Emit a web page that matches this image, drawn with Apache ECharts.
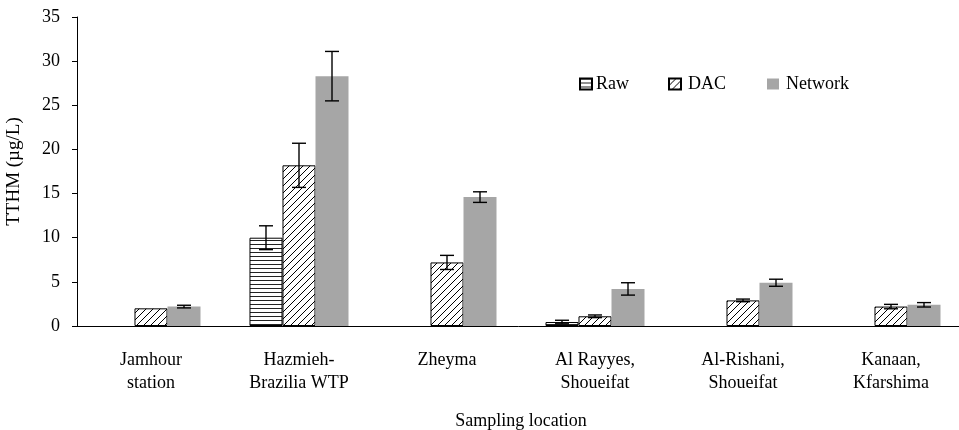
<!DOCTYPE html>
<html>
<head>
<meta charset="utf-8">
<script src="https://cdn.jsdelivr.net/npm/echarts@6/dist/echarts.min.js"></script>
<style>html,body{margin:0;padding:0;background:#fff}#c{width:959px;height:430px}</style>
</head>
<body>
<div id="c"></div>
<script>
var categories = ['Jamhour\nstation', 'Hazmieh-\nBrazilia WTP', 'Zheyma', 'Al Rayyes,\nShoueifat', 'Al-Rishani,\nShoueifat', 'Kanaan,\nKfarshima'];
var rawValues = [null, 10.0, null, 0.45, null, null];
var dacValues = [2.0, 18.2, 7.2, 1.1, 2.9, 2.2];
var networkValues = [2.2, 28.3, 14.6, 4.2, 4.9, 2.4];
var rawErrors = [null, 1.35, null, 0.2, null, null];
var dacErrors = [null, 2.5, 0.8, 0.15, 0.15, 0.25];
var networkErrors = [0.15, 2.8, 0.6, 0.7, 0.4, 0.25];
var seriesNames = ['Raw', 'DAC', 'Network'];
var yTicks = [0, 5, 10, 15, 20, 25, 30, 35];

var FONT = 'Liberation Serif';

function hPattern() {
  var c = document.createElement('canvas');
  c.width = 4; c.height = 4;
  var g = c.getContext('2d');
  g.fillStyle = '#fff'; g.fillRect(0, 0, 4, 4);
  g.fillStyle = '#222'; g.fillRect(0, 0, 4, 1);
  return c;
}
function dPattern() {
  var s = 7;
  var c = document.createElement('canvas');
  c.width = s; c.height = s;
  var g = c.getContext('2d');
  g.fillStyle = '#fff'; g.fillRect(0, 0, s, s);
  g.strokeStyle = '#000'; g.lineWidth = 1;
  g.beginPath();
  g.moveTo(-1, s + 1); g.lineTo(s + 1, -1);
  g.moveTo(-1, 1); g.lineTo(1, -1);
  g.moveTo(s - 1, s + 1); g.lineTo(s + 1, s - 1);
  g.stroke();
  return c;
}

var BAR_RATIO = 0.223;
var seriesVals = [rawValues, dacValues, networkValues];
var seriesErrs = [rawErrors, dacErrors, networkErrors];
var errData = [];
for (var s = 0; s < 3; s++) {
  for (var i = 0; i < categories.length; i++) {
    if (seriesVals[s][i] != null && seriesErrs[s][i] != null) {
      errData.push([i, seriesVals[s][i], seriesErrs[s][i], s]);
    }
  }
}

var legendLefts = [579, 668, 767];
var legends = seriesNames.map(function (n, k) {
  return {
    data: [n], left: legendLefts[k], top: 75, padding: 0,
    itemWidth: 12, itemHeight: 11, icon: 'rect',
    textStyle: {fontFamily: FONT, fontSize: 18, color: '#000', padding: [0, 0, 0, k === 0 ? -1 : 2]}
  };
});

var chart = echarts.init(document.getElementById('c'), null, {renderer: 'canvas'});
chart.setOption({
  animation: false,
  backgroundColor: '#fff',
  textStyle: {fontFamily: FONT, color: '#000'},
  grid: {left: 77, right: -6, top: 17, bottom: 104, containLabel: false, outerBoundsMode: 'none'},
  legend: legends,
  xAxis: {
    type: 'category',
    data: categories,
    name: 'Sampling location',
    nameLocation: 'middle',
    nameGap: 86,
    nameTextStyle: {fontFamily: FONT, fontSize: 18, color: '#000'},
    axisLine: {lineStyle: {color: '#000', width: 1}},
    axisTick: {length: 8, lineStyle: {color: '#000'}},
    axisLabel: {fontFamily: FONT, fontSize: 18, color: '#000', margin: 23, lineHeight: 23}
  },
  yAxis: {
    type: 'value',
    min: 0, max: 35, interval: 5,
    name: 'TTHM (µg/L)',
    nameLocation: 'middle',
    nameGap: 53,
    nameRotate: 90,
    nameTextStyle: {fontFamily: FONT, fontSize: 19, color: '#000'},
    splitLine: {show: false},
    axisLine: {show: true, lineStyle: {color: '#000', width: 1}},
    axisTick: {show: true, length: 5, lineStyle: {color: '#000'}},
    axisLabel: {fontFamily: FONT, fontSize: 18, color: '#000', margin: 17,
      formatter: function (v) { return yTicks.indexOf(v) >= 0 ? String(v) : ''; }}
  },
  series: [
    {name: seriesNames[0], type: 'bar', data: rawValues, barWidth: (BAR_RATIO * 100) + '%', barGap: '0%',
     itemStyle: {color: {image: hPattern(), repeat: 'repeat'}, borderColor: '#000', borderWidth: 1}},
    {name: seriesNames[1], type: 'bar', data: dacValues, barWidth: (BAR_RATIO * 100) + '%', barGap: '0%',
     itemStyle: {color: {image: dPattern(), repeat: 'repeat'}, borderColor: '#000', borderWidth: 1}},
    {name: seriesNames[2], type: 'bar', data: networkValues, barWidth: (BAR_RATIO * 100) + '%', barGap: '0%',
     itemStyle: {color: '#a6a6a6'}},
    {
      type: 'custom', name: 'err', z: 10,
      data: errData,
      renderItem: function (params, api) {
        var idx = api.value(0), val = api.value(1), err = api.value(2), s = api.value(3);
        var band = api.size([1, 0])[0];
        var off = (s - 1) * band * BAR_RATIO;
        var top = api.coord([idx, val + err]);
        var bot = api.coord([idx, val - err]);
        var x = top[0] + off;
        var hw = 7;
        var st = {stroke: '#000', lineWidth: 1.4};
        return {type: 'group', children: [
          {type: 'line', shape: {x1: x, y1: top[1], x2: x, y2: bot[1]}, style: st},
          {type: 'line', shape: {x1: x - hw, y1: top[1], x2: x + hw, y2: top[1]}, style: st},
          {type: 'line', shape: {x1: x - hw, y1: bot[1], x2: x + hw, y2: bot[1]}, style: st}
        ]};
      }
    }
  ]
});
</script>
</body>
</html>
